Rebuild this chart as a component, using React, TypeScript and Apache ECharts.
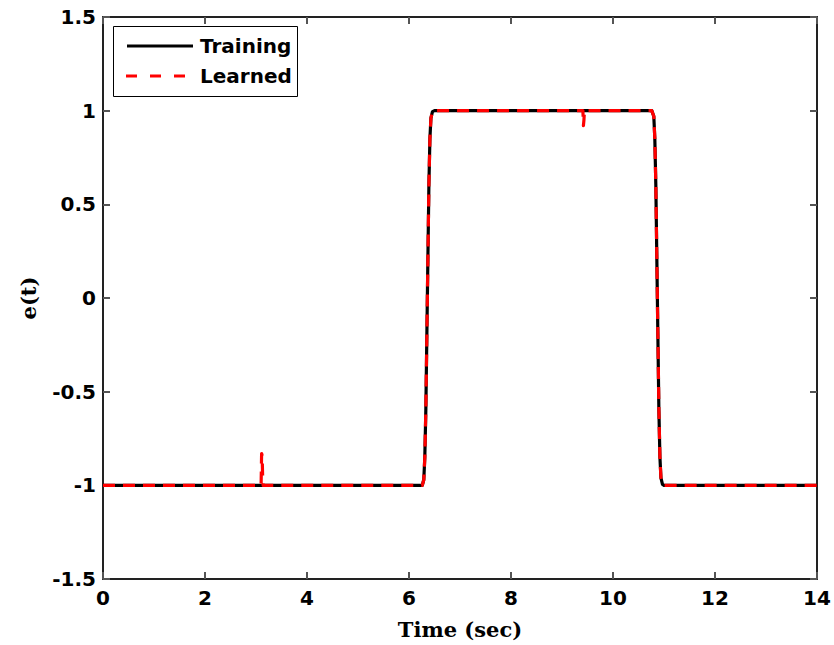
import React, { useEffect, useRef } from "react";
import * as echarts from "echarts";

const xTicks = [0, 2, 4, 6, 8, 10, 12, 14];
const yTicks = [-1.5, -1, -0.5, 0, 0.5, 1, 1.5];
const legendNames = ["Training", "Learned"];

const trainingT = [0, 6.26, 6.29, 6.31, 6.33, 6.36, 6.39, 6.41, 6.43, 6.46, 6.5, 10.76, 10.8, 10.82, 10.84, 10.87, 10.9, 10.92, 10.94, 10.97, 11.0, 14];
const trainingE = [-1, -1, -0.97, -0.85, -0.6, 0, 0.6, 0.85, 0.96, 0.995, 1, 1, 0.97, 0.85, 0.6, 0, -0.6, -0.85, -0.96, -0.995, -1, -1];

const learnedT = [0, 3.1, 3.11, 3.12, 3.13, 3.14, 3.15, 6.26, 6.29, 6.31, 6.33, 6.36, 6.39, 6.41, 6.43, 6.46, 6.5, 9.41, 9.42, 9.43, 9.44, 10.76, 10.8, 10.82, 10.84, 10.87, 10.9, 10.92, 10.94, 10.97, 11.0, 14];
const learnedE = [-1, -1, -0.83, -0.84, -0.95, -1, -1, -1, -0.97, -0.85, -0.6, 0, 0.6, 0.85, 0.96, 0.995, 1, 1, 0.92, 0.95, 1, 1, 0.97, 0.85, 0.6, 0, -0.6, -0.85, -0.96, -0.995, -1, -1];

const toPairs = (t: number[], v: number[]) => t.map((x, i) => [x, v[i]]);

export default function App() {
  const ref = useRef<HTMLDivElement>(null);
  useEffect(() => {
    const chart = echarts.init(ref.current!, null, { renderer: "svg" });
    const tickFont = { fontFamily: "DejaVu Sans", fontWeight: "bold" as const, fontSize: 20, color: "#000" };
    const axisCommon = {
      axisLine: { show: true, onZero: false, lineStyle: { color: "#222", width: 2 } },
      axisTick: { show: true, inside: true, length: 7, lineStyle: { color: "#555", width: 2 } },
      splitLine: { show: false },
    };
    const legendFont = { fontFamily: "DejaVu Sans", fontWeight: "bold", fontSize: 20, fill: "#000" };
    chart.setOption({
      animation: false,
      backgroundColor: "#fff",
      grid: { left: 103, right: 17, top: 17, bottom: 65, containLabel: false },
      xAxis: [
        {
          type: "value",
          min: xTicks[0],
          max: xTicks[xTicks.length - 1],
          interval: 2,
          position: "bottom",
          ...axisCommon,
          axisLabel: { ...tickFont, margin: 9 },
          name: "Time (sec)",
          nameLocation: "middle",
          nameGap: 40,
          nameTextStyle: { fontFamily: "DejaVu Serif", fontWeight: "bold", fontSize: 21, color: "#000" },
        },
        {
          type: "value",
          min: xTicks[0],
          max: xTicks[xTicks.length - 1],
          interval: 2,
          position: "top",
          ...axisCommon,
          axisLabel: { show: false },
        },
      ],
      yAxis: [
        {
          type: "value",
          min: yTicks[0],
          max: yTicks[yTicks.length - 1],
          interval: 0.5,
          position: "left",
          ...axisCommon,
          axisLabel: { ...tickFont, margin: 7 },
          name: "e(t)",
          nameLocation: "middle",
          nameGap: 64,
          nameRotate: 90,
          nameTextStyle: { fontFamily: "DejaVu Serif", fontWeight: "bold", fontSize: 21, color: "#000" },
        },
        {
          type: "value",
          min: yTicks[0],
          max: yTicks[yTicks.length - 1],
          interval: 0.5,
          position: "right",
          ...axisCommon,
          axisLabel: { show: false },
        },
      ],
      graphic: [
        {
          type: "group",
          z: 100,
          children: [
            { type: "rect", shape: { x: 113.5, y: 26.5, width: 184, height: 70 }, style: { fill: "#fff", stroke: "#000", lineWidth: 1 } },
            { type: "line", shape: { x1: 127, y1: 46, x2: 193, y2: 46 }, style: { stroke: "#000", lineWidth: 3.2 } },
            { type: "line", shape: { x1: 126, y1: 76, x2: 193, y2: 76 }, style: { stroke: "#ff0000", lineWidth: 3.2, lineDash: [11, 13] } },
            { type: "text", x: 200, y: 46, style: { text: legendNames[0], ...legendFont, verticalAlign: "middle", align: "left" } },
            { type: "text", x: 200, y: 76, style: { text: legendNames[1], ...legendFont, verticalAlign: "middle", align: "left" } },
          ],
        },
      ],
      series: [
        {
          name: legendNames[0],
          type: "line",
          data: toPairs(trainingT, trainingE),
          showSymbol: false,
          symbol: "none",
          lineStyle: { color: "#000", width: 3.2, join: "round" },
          itemStyle: { color: "#000" },
        },
        {
          name: legendNames[1],
          type: "line",
          data: toPairs(learnedT, learnedE),
          showSymbol: false,
          symbol: "none",
          lineStyle: { color: "#ff0000", width: 3.2, type: [12, 8], join: "round" },
          itemStyle: { color: "#ff0000" },
        },
      ],
    });
    return () => chart.dispose();
  }, []);
  return <div ref={ref} style={{ position: "fixed", left: 0, top: 0, width: 834, height: 645 }} />;
}
